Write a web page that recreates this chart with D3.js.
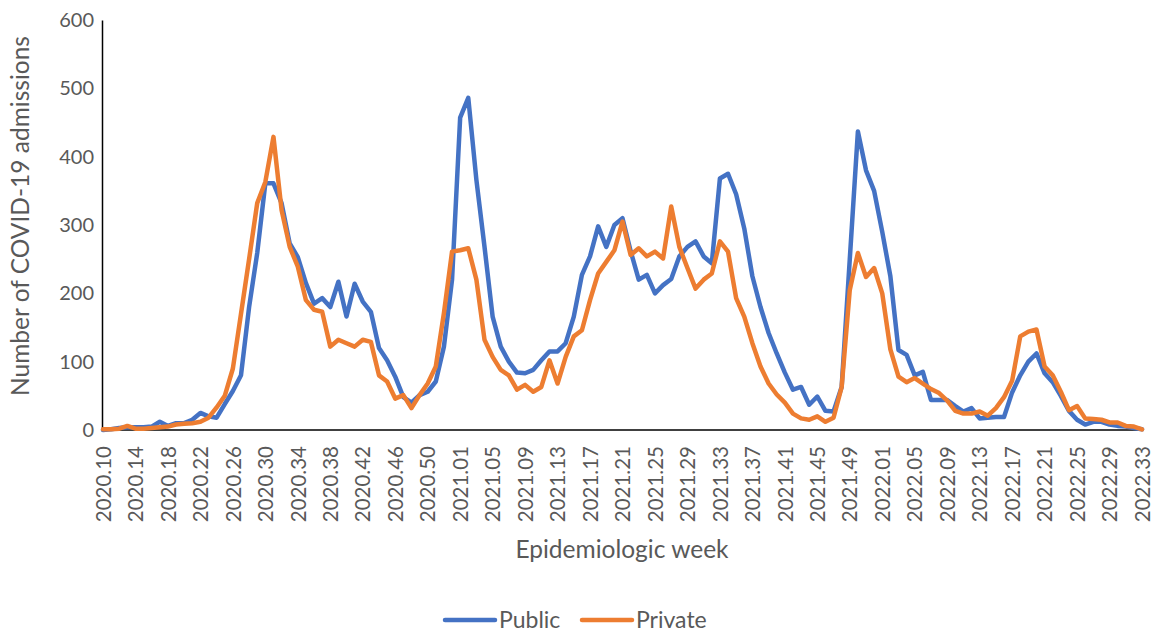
<!DOCTYPE html>
<html>
<head>
<meta charset="utf-8">
<script src="https://cdnjs.cloudflare.com/ajax/libs/d3/7.8.5/d3.min.js"></script>
<style>
  body { margin: 0; background: #fff; }
  text { font-family: Lato, "Open Sans", sans-serif; fill: #595959; }
</style>
</head>
<body>
<div id="chart"></div>
<script>
// epidemiologic weeks (2020 has 53 weeks)
var weeks = [
  "2020.10","2020.11","2020.12","2020.13","2020.14","2020.15","2020.16","2020.17","2020.18","2020.19",
  "2020.20","2020.21","2020.22","2020.23","2020.24","2020.25","2020.26","2020.27","2020.28","2020.29",
  "2020.30","2020.31","2020.32","2020.33","2020.34","2020.35","2020.36","2020.37","2020.38","2020.39",
  "2020.40","2020.41","2020.42","2020.43","2020.44","2020.45","2020.46","2020.47","2020.48","2020.49",
  "2020.50","2020.51","2020.52","2020.53",
  "2021.01","2021.02","2021.03","2021.04","2021.05","2021.06","2021.07","2021.08","2021.09","2021.10",
  "2021.11","2021.12","2021.13","2021.14","2021.15","2021.16","2021.17","2021.18","2021.19","2021.20",
  "2021.21","2021.22","2021.23","2021.24","2021.25","2021.26","2021.27","2021.28","2021.29","2021.30",
  "2021.31","2021.32","2021.33","2021.34","2021.35","2021.36","2021.37","2021.38","2021.39","2021.40",
  "2021.41","2021.42","2021.43","2021.44","2021.45","2021.46","2021.47","2021.48","2021.49","2021.50",
  "2021.51","2021.52",
  "2022.01","2022.02","2022.03","2022.04","2022.05","2022.06","2022.07","2022.08","2022.09","2022.10",
  "2022.11","2022.12","2022.13","2022.14","2022.15","2022.16","2022.17","2022.18","2022.19","2022.20",
  "2022.21","2022.22","2022.23","2022.24","2022.25","2022.26","2022.27","2022.28","2022.29","2022.30",
  "2022.31","2022.32","2022.33"
];

var publicAdm = [
  0, 1, 3, 4, 4, 4, 5, 12, 6, 10,
  10, 15, 25, 20, 18, 38, 57, 80, 180, 259,
  361, 361, 332, 273, 253, 215, 185, 193, 180, 217,
  166, 214, 188, 173, 120, 102, 78, 48, 40, 51,
  56, 71, 122, 220, 457, 486, 366, 268, 166, 122,
  100, 84, 83, 88, 102, 115, 115, 127, 166, 227,
  254, 298, 268, 300, 310, 262, 220, 227, 200, 212,
  221, 254, 268, 276, 254, 244, 368, 375, 345, 295,
  225, 180, 142, 112, 84, 59, 63, 37, 49, 28,
  27, 63, 250, 437, 380, 350, 290, 225, 117, 110,
  80, 85, 44, 44, 44, 35, 27, 32, 17, 18,
  19, 19, 55, 80, 100, 112, 83, 70, 50, 28,
  15, 8, 12, 12, 8, 6, 5, 3, 1
];

var privateAdm = [
  1, 1, 2, 6, 2, 2, 3, 4, 5, 8,
  9, 10, 12, 18, 33, 50, 90, 170, 250, 332,
  363, 429, 322, 268, 239, 190, 176, 173, 122, 132,
  127, 122, 132, 129, 80, 71, 46, 51, 32, 51,
  68, 93, 171, 261, 263, 266, 220, 132, 107, 88,
  80, 59, 66, 56, 63, 102, 68, 107, 137, 146,
  190, 229, 246, 263, 305, 256, 266, 254, 261, 251,
  327, 268, 237, 207, 220, 229, 276, 261, 193, 166,
  127, 93, 68, 52, 40, 24, 17, 15, 20, 12,
  18, 63, 205, 259, 224, 237, 200, 118, 78, 70,
  76, 68, 60, 54, 43, 28, 24, 24, 27, 21,
  32, 48, 72, 137, 144, 147, 93, 80, 56, 29,
  35, 17, 16, 15, 11, 11, 6, 5, 1
];

var yTicks = [0, 100, 200, 300, 400, 500, 600];

var series = [
  {name: "Public", values: publicAdm, color: "#4472C4"},
  {name: "Private", values: privateAdm, color: "#ED7D31"}
];

var W = 1157, H = 635;
var plotLeft = 103, plotRight = 1142, plotTop = 20, plotBottom = 430;

var svg = d3.select("#chart")
    .append("svg")
    .attr("width", W)
    .attr("height", H);

var x = d3.scalePoint()
    .domain(weeks)
    .range([plotLeft, plotRight]);

var y = d3.scaleLinear()
    .domain([0, 600])
    .range([plotBottom, plotTop]);

// y axis
var yAxis = svg.append("g")
    .attr("transform", "translate(" + (plotLeft - 1) + ",0)")
    .call(d3.axisLeft(y).tickValues(yTicks).tickSize(0).tickPadding(8));
yAxis.select(".domain").attr("stroke", "#000").attr("stroke-width", 1.5);
yAxis.selectAll("text").style("font-size", "20px").attr("fill", "#595959");

// x axis
var xAxis = svg.append("g")
    .attr("transform", "translate(0," + plotBottom + ")")
    .call(d3.axisBottom(x)
      .tickValues(weeks.filter(function(d, i) { return i % 4 === 0; }))
      .tickSize(0));
xAxis.select(".domain")
    .attr("d", "M" + (plotLeft - 1) + ",0H" + plotRight)
    .attr("stroke", "#000").attr("stroke-width", 1.5);
xAxis.selectAll("text")
    .style("font-size", "20.5px")
    .attr("fill", "#595959")
    .attr("text-anchor", "end")
    .attr("transform", "rotate(-90)")
    .attr("x", -16)
    .attr("y", 0)
    .attr("dy", "0.35em");

// lines
var line = d3.line()
    .x(function(d, i) { return x(weeks[i]); })
    .y(function(d) { return y(d); });

svg.append("g").selectAll("path")
    .data(series)
    .enter().append("path")
    .attr("d", function(d) { return line(d.values); })
    .attr("fill", "none")
    .attr("stroke", function(d) { return d.color; })
    .attr("stroke-width", 4.5)
    .attr("stroke-linejoin", "round")
    .attr("stroke-linecap", "round");

// axis titles
svg.append("text")
    .attr("transform", "translate(29,216) rotate(-90)")
    .attr("text-anchor", "middle")
    .style("font-size", "24.5px")
    .text("Number of COVID-19 admissions");

svg.append("text")
    .attr("x", 622)
    .attr("y", 558)
    .attr("text-anchor", "middle")
    .style("font-size", "24.5px")
    .text("Epidemiologic week");

// legend
var legend = svg.append("g").selectAll("g")
    .data(series)
    .enter().append("g")
    .attr("transform", function(d, i) { return "translate(" + (445 + i * 137) + ",620)"; });

legend.append("line")
    .attr("x1", 0).attr("x2", 50)
    .attr("stroke", function(d) { return d.color; })
    .attr("stroke-width", 4.5)
    .attr("stroke-linecap", "round");

legend.append("text")
    .attr("x", 54)
    .attr("dy", "0.35em")
    .style("font-size", "23px")
    .text(function(d) { return d.name; });
</script>
</body>
</html>
